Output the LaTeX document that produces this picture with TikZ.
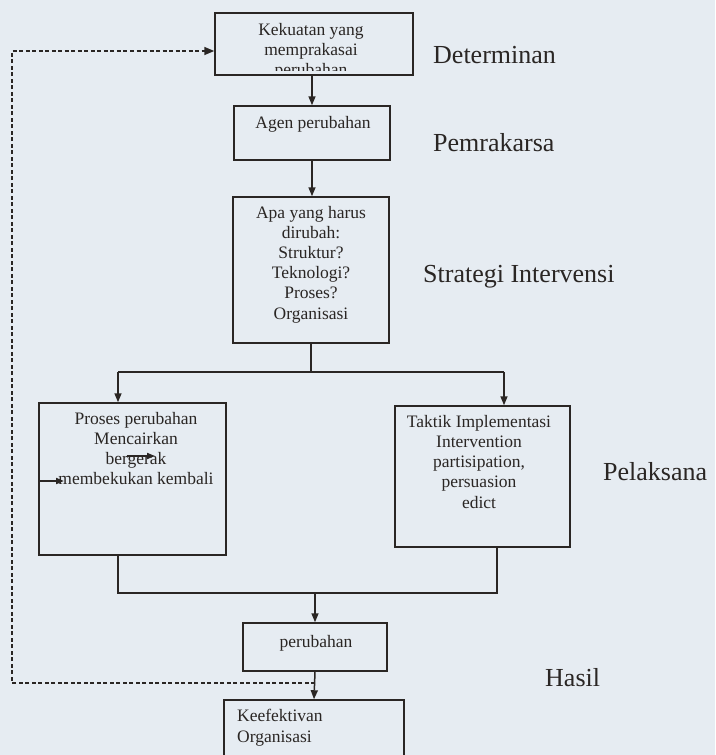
\documentclass[tikz,border=0pt]{standalone}
\usepackage{fontspec}
\setmainfont{Liberation Serif}
\usetikzlibrary{arrows.meta}
\definecolor{bg}{HTML}{E6ECF2}
\definecolor{ink}{HTML}{2A2624}
\begin{document}
\begin{tikzpicture}[x=1pt,y=-1pt,
  box/.style={draw=ink, line width=1.5pt, inner sep=0pt},
  txt/.style={text=ink, font=\fontsize{17.5}{20.2}\selectfont, align=center, inner sep=0pt, anchor=base},
  lbl/.style={text=ink, font=\fontsize{26}{30}\selectfont, inner sep=0pt, anchor=base west},
  conn/.style={draw=ink, line width=1.5pt},
  arr/.style={conn, -{Triangle[length=9pt,width=7pt]}},
  smallarr/.style={draw=ink, line width=1.8pt, -{Triangle[length=8pt,width=6pt]}},
  dashconn/.style={draw=ink, line width=1.5pt, dash pattern=on 4pt off 2.5pt, -{Triangle[length=10pt,width=8pt]}}
]
\fill[bg] (0,0) rectangle (715,755);
\useasboundingbox (0,0) rectangle (715,755);

% boxes
\node[box, minimum width=198pt, minimum height=62pt] (b1) at (314,44) {};
\node[box, minimum width=156pt, minimum height=54pt] (b2) at (312,133) {};
\node[box, minimum width=156pt, minimum height=146pt] (b3) at (311,270) {};
\node[box, minimum width=187pt, minimum height=152pt] (b4) at (132.5,479) {};
\node[box, minimum width=175pt, minimum height=141pt] (b5) at (482.5,476.5) {};
\node[box, minimum width=144pt, minimum height=48pt] (b6) at (315,647) {};
\node[box, minimum width=180pt, minimum height=110pt] (b7) at (314,755) {};

% box texts (anchor=base is the baseline of the last line)
\begin{scope}
  \clip (216,14) rectangle (412,70);
  \node[txt] (t1) at (311,75.4) {Kekuatan yang\\memprakasai\\perubahan};
\end{scope}
\node[txt] (t2) at (313,128) {Agen perubahan};
\node[txt] (t3) at (311,319) {Apa yang harus\\dirubah:\\Struktur?\\Teknologi?\\Proses?\\Organisasi};
\node[txt] (t4) at (136,484.6) {Proses perubahan\\Mencairkan\\bergerak\\membekukan kembali};
\node[txt] (t5) at (479,508) {Taktik Implementasi\\Intervention\\partisipation,\\persuasion\\edict};
\node[txt] (t6) at (316,647) {perubahan};
\node[txt, align=left, anchor=base west] (t7) at (237,742) {Keefektivan\\Organisasi};

% side labels
\node[lbl] (l1) at (433,63) {Determinan};
\node[lbl] (l2) at (433,151) {Pemrakarsa};
\node[lbl] (l3) at (423,282) {Strategi Intervensi};
\node[lbl] (l4) at (603,480) {Pelaksana};
\node[lbl] (l5) at (545,686) {Hasil};

% connectors
\draw[arr] (b2.north |- b1.south) -- (b2.north);
\draw[arr] (b2.south) -- (b2.south |- b3.north);
\coordinate (j1) at (311,372);
\coordinate (s4) at (118,372);
\coordinate (s5) at (504,372);
\draw[conn] (b3.south) -- (j1);
\draw[conn] (s4) -- (s5);
\draw[arr] (s4) -- (s4 |- b4.north);
\draw[arr] (s5) -- (s5 |- b5.north);
\coordinate (m4) at (118,593);
\coordinate (m5) at (497,593);
\coordinate (m6) at (315,593);
\draw[conn] (m4 |- b4.south) -- (m4) -- (m5) -- (m5 |- b5.south);
\draw[arr] (m6) -- (b6.north);
\draw[arr] (b6.south) -- (b7.north);

% small arrows in box 4
\coordinate (a1) at (127,456);
\coordinate (a2) at (155,456);
\coordinate (a3) at (b4.west |- 0,481);
\coordinate (a4) at (64,481);
\draw[smallarr] (a1) -- (a2);
\draw[smallarr] (a3) -- (a4);

% feedback dashed loop
\coordinate (d0) at (315,683);
\coordinate (d1) at (12,683);
\coordinate (d2) at (12,51);
\draw[dashconn] (d0) -- (d1) -- (d2) -- (d2 -| b1.west);
\end{tikzpicture}
\end{document}
